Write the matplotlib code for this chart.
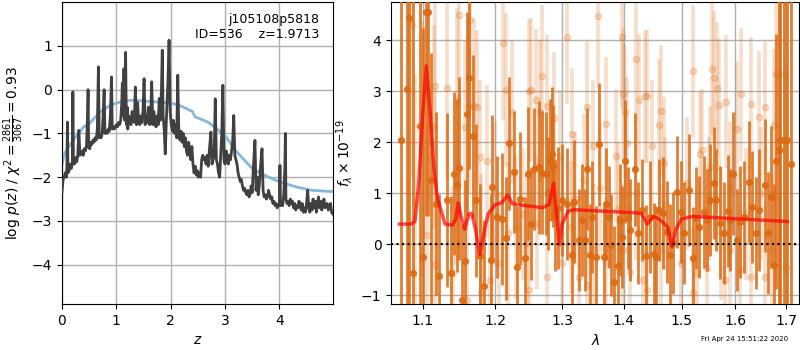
import numpy as np
import matplotlib
matplotlib.use("Agg")
import matplotlib.pyplot as plt
from matplotlib.ticker import FixedLocator, FixedFormatter, NullLocator

# ---------------- Left panel data: log p(z) ----------------
z_pz = [0.00, 0.02, 0.04, 0.06, 0.08, 0.09, 0.10, 0.11, 0.13, 0.15, 0.17, 0.19, 0.20, 0.21, 0.23, 0.25,
        0.27, 0.29, 0.31, 0.33, 0.35, 0.37, 0.39, 0.41, 0.43, 0.45, 0.47, 0.48, 0.49, 0.51, 0.53, 0.55,
        0.57, 0.59, 0.61, 0.63, 0.65, 0.67, 0.685, 0.70, 0.72, 0.74, 0.76, 0.775, 0.79, 0.81, 0.83, 0.85,
        0.87, 0.89, 0.91, 0.925, 0.94, 0.96, 0.98, 1.00, 1.02, 1.04, 1.06, 1.08, 1.10, 1.11, 1.12, 1.14,
        1.155, 1.17, 1.185, 1.20, 1.21, 1.23, 1.25, 1.27, 1.29, 1.31, 1.33, 1.35, 1.37, 1.39, 1.41, 1.43,
        1.45, 1.47, 1.49, 1.51, 1.53, 1.55, 1.57, 1.59, 1.61, 1.63, 1.65, 1.67, 1.69, 1.71, 1.73, 1.75,
        1.77, 1.79, 1.81, 1.83, 1.845, 1.86, 1.88, 1.90, 1.92, 1.95, 1.97, 1.99, 2.01, 2.03, 2.05, 2.07,
        2.09, 2.11, 2.13, 2.15, 2.17, 2.19, 2.21, 2.23, 2.25, 2.27, 2.29, 2.31, 2.33, 2.35, 2.37, 2.39,
        2.41, 2.43, 2.45, 2.47, 2.49, 2.51, 2.53, 2.55, 2.57, 2.59, 2.61, 2.63, 2.65, 2.67, 2.69, 2.71,
        2.74, 2.76, 2.78, 2.80, 2.82, 2.84, 2.86, 2.88, 2.90, 2.92, 2.94, 2.96, 2.98, 3.00, 3.02, 3.04,
        3.06, 3.08, 3.10, 3.12, 3.14, 3.16, 3.18, 3.20, 3.22, 3.24, 3.26, 3.28, 3.30, 3.32, 3.34, 3.36,
        3.38, 3.40, 3.42, 3.44, 3.46, 3.48, 3.50, 3.52, 3.55, 3.57, 3.59, 3.61, 3.63, 3.65, 3.68, 3.70,
        3.72, 3.74, 3.76, 3.78, 3.80, 3.82, 3.84, 3.86, 3.88, 3.90, 3.92, 3.94, 3.96, 3.98, 4.00, 4.01,
        4.02, 4.04, 4.06, 4.08, 4.10, 4.11, 4.12, 4.14, 4.16, 4.18, 4.20, 4.22, 4.24, 4.26, 4.28, 4.30,
        4.32, 4.34, 4.36, 4.38, 4.40, 4.42, 4.44, 4.46, 4.48, 4.50, 4.52, 4.54, 4.56, 4.58, 4.60, 4.62,
        4.64, 4.66, 4.68, 4.70, 4.72, 4.74, 4.76, 4.78, 4.80, 4.82, 4.84, 4.86, 4.88, 4.90, 4.92, 4.94,
        4.96, 4.99]
logp = [-2.35, -2.05, -2.0, -1.9, -2.0, -1.8, -0.74, -1.9, -1.85, -1.7, -1.8, -1.7, -0.05, -1.6, -1.7, -1.55,
        -1.65, -1.5, -0.93, -1.5, -1.45, -1.4, -1.5, -1.35, -1.4, -1.3, -0.6, 0.0, -1.3, -1.35, -1.2, -1.25,
        -1.15, -1.2, -1.1, -1.15, -0.9, 0.52, -1.1, -1.05, -1.1, -1.0, -0.5, 0.0, -1.0, -0.95, -1.0, -0.9,
        -0.95, -0.6, 0.29, -0.9, -0.85, -0.9, -0.85, -0.8, -0.85, -0.75, -0.8, -0.7, -0.3, 0.15, -0.6, 0.48,
        -0.7, 0.85, -0.8, -0.4, -0.9, -0.6, -0.75, -0.8, -0.5, -0.7, -0.75, 0.06, -0.8, -0.3, -0.7, -0.8,
        -0.6, -0.75, -0.5, 0.25, -0.8, -0.6, -0.75, -0.4, -0.8, -0.7, 0.18, -0.8, -0.5, -0.75, -0.85, -0.6,
        -0.8, -0.2, -0.7, 0.0, 0.9, -0.6, -0.9, -1.47, -0.7, 0.2, 1.13, -0.5, -0.8, -0.95, -0.7, -1.0,
        -0.8, -1.1, 0.33, -1.0, -1.15, -0.95, -1.2, -1.0, -1.3, -1.1, -1.4, -1.5, -1.2, -1.35, -1.6, -1.3,
        -1.7, -1.9, -1.75, -1.95, -1.85, -2.0, -1.9, -2.0, -1.6, -1.5, -1.6, -1.55, -1.7, -1.5, -1.75, -1.4,
        -0.97, -1.7, -1.6, -1.5, -0.21, -1.6, -1.7, -1.9, -2.0, -1.5, -1.0, 0.1, -1.6, -1.7, -1.4, -1.5,
        -1.7, -1.5, -1.6, -1.4, -1.2, -0.59, -1.5, -1.6, -1.7, -1.9, -2.0, -2.1, -2.05, -2.2, -2.3, -2.25,
        -2.35, -2.4, -2.3, -2.45, -2.4, -2.2, -2.35, -1.8, -1.16, -2.3, -2.0, -2.4, -2.2, -1.8, -1.35, -2.3,
        -2.45, -2.4, -2.5, -2.45, -2.3, -2.4, -2.5, -2.45, -2.6, -2.55, -2.65, -2.6, -2.7, -2.65, -2.6, -1.73,
        -2.65, -2.55, -2.65, -2.4, -1.8, -1.0, -2.5, -2.6, -2.55, -2.65, -2.5, -2.6, -2.55, -2.7, -2.6, -2.75,
        -2.65, -2.7, -2.55, -2.6, -2.75, -2.6, -2.8, -2.7, -2.8, -2.6, -2.3, -2.7, -2.8, -2.6, -2.75, -2.5,
        -2.7, -2.55, -2.8, -2.6, -2.45, -2.7, -2.55, -2.75, -2.6, -2.5, -2.7, -2.65, -2.6, -2.75, -2.7, -2.6,
        -2.8, -2.85]

z_prior = [0.0, 0.05, 0.2, 0.4, 0.5, 0.7, 0.9, 1.1, 1.3, 1.6, 2.0, 2.2, 2.4, 2.45, 2.7, 3.0, 3.2, 3.5,
           3.8, 4.0, 4.3, 4.6, 4.99]
logp_prior = [-1.7, -1.45, -1.16, -0.85, -0.78, -0.51, -0.35, -0.27, -0.24, -0.27, -0.3, -0.38, -0.5,
              -0.62, -0.75, -1.05, -1.4, -1.8, -2.0, -2.1, -2.22, -2.3, -2.33]

# ---------------- Right panel data: spectrum ----------------
lam_a = [1.0723, 1.0796, 1.0826, 1.0869, 1.0970, 1.1009, 1.1044, 1.1071, 1.1115, 1.1173, 1.1222, 1.1326,
         1.1376, 1.1417, 1.1462, 1.1485, 1.1536, 1.1568, 1.1605, 1.1628, 1.1679, 1.1726, 1.1787, 1.1834,
         1.1934, 1.1953, 1.2025, 1.2097, 1.2155, 1.2194, 1.2267, 1.2316, 1.2365, 1.2430, 1.2475, 1.2524,
         1.2565, 1.2650, 1.2690, 1.2746, 1.2787, 1.2818, 1.2838, 1.2854, 1.2885, 1.2931, 1.2993, 1.3076,
         1.3155, 1.3192, 1.3271, 1.3313, 1.3356, 1.3399, 1.3447, 1.3479, 1.3533, 1.3582, 1.3663, 1.3707,
         1.3745, 1.3784, 1.3839, 1.3894, 1.3933, 1.3972, 1.4011, 1.4067, 1.4107, 1.4180, 1.4237, 1.4305,
         1.4368, 1.4443, 1.4506, 1.4541, 1.4605, 1.4664, 1.4740, 1.4799, 1.4846, 1.4918, 1.4995, 1.5049,
         1.5127, 1.5200, 1.5267, 1.5322, 1.5402, 1.5463, 1.5525, 1.5587, 1.5637, 1.5712, 1.5775, 1.5851,
         1.5902, 1.5946, 1.6029, 1.6080, 1.6158, 1.6268, 1.6313, 1.6405, 1.6464, 1.6569, 1.6635, 1.6695,
         1.6749, 1.6802, 1.6856, 1.6883, 1.6950, 1.7018, 1.7100]
flux_a = [2.05, 3.04, 4.43, -0.55, 2.32, -0.25, 4.56, 4.56, 1.26, 0.80, -0.61, 0.87,
          -0.55, 1.39, 1.16, 1.49, -1.09, -0.33, 2.55, 3.27, 2.12, 0.87, -0.22, -0.82,
          -0.31, 1.13, 0.54, 0.50, 0.12, 1.98, 1.42, -0.44, 0.90, -0.27, 1.39, 0.40,
          1.48, 1.51, 1.41, 1.39, 1.00, 1.65, 1.78, 1.54, 0.58, 0.71, 0.87, 0.79,
          -0.21, 0.84, 0.08, 0.48, 0.08, 1.48, -0.21, 0.54, -0.25, 1.96, -0.24, 0.80,
          0.54, -0.01, -0.73, -0.42, 0.48, 0.14, 1.63, 0.51, 0.28, 1.47, 0.22, 0.67,
          -0.23, 0.54, -0.18, -0.24, 0.67, 0.61, 0.25, -0.21, 0.02, 1.03, 0.64, 0.22,
          1.07, -0.27, 0.51, 0.35, 0.64, 0.48, 0.87, 1.21, 0.87, 0.43, 0.22, 0.66,
          0.48, 1.39, 0.08, 0.44, 0.54, 1.22, 0.74, 0.22, 0.67, 1.16, 0.22, 0.93,
          -0.41, 1.63, 1.85, 2.05, 2.05, 2.05, 1.58]
err_a = [6.0, 6.0, 6.0, 6.0, 5.0, 4.5, 4.0, 4.0, 2.5, 1.8, 1.6, 1.7,
         1.5, 1.6, 1.7, 1.8, 1.5, 1.6, 2.0, 1.8, 1.6, 1.5, 1.4, 1.3,
         1.3, 1.4, 1.2, 1.3, 1.2, 1.3, 1.2, 1.2, 1.3, 1.2, 1.3, 1.1,
         1.2, 1.3, 1.2, 1.2, 1.1, 1.2, 1.3, 1.2, 1.1, 1.2, 1.1, 1.1,
         1.1, 1.2, 1.0, 1.1, 1.0, 1.2, 1.0, 1.1, 1.0, 1.2, 1.0, 1.1,
         1.0, 1.0, 1.1, 1.0, 1.1, 1.0, 1.2, 1.0, 1.0, 1.1, 1.0, 1.0,
         1.0, 1.1, 1.0, 1.0, 1.0, 1.1, 1.0, 1.0, 1.0, 1.1, 1.0, 1.0,
         1.1, 1.0, 1.0, 1.0, 1.1, 1.0, 1.1, 1.1, 1.0, 1.1, 1.0, 1.1,
         1.0, 1.2, 1.0, 1.1, 1.1, 1.2, 1.1, 1.1, 1.2, 1.3, 1.2, 1.4,
         1.6, 2.5, 4.0, 5.0, 6.0, 6.0, 6.0]

lam_b = [1.0860, 1.0904, 1.0992, 1.1058, 1.1146, 1.1159, 1.1168, 1.1330, 1.1414, 1.1450, 1.1462, 1.1494,
         1.1575, 1.1596, 1.1623, 1.1646, 1.1693, 1.1740, 1.1778, 1.1800, 1.1803, 1.1881, 1.1919, 1.2000,
         1.2060, 1.2111, 1.2155, 1.2179, 1.2243, 1.2300, 1.2400, 1.2470, 1.2490, 1.2500, 1.2524, 1.2600,
         1.2619, 1.2665, 1.2695, 1.2767, 1.2771, 1.2870, 1.2975, 1.3003, 1.3076, 1.3134, 1.3155, 1.3200,
         1.3266, 1.3346, 1.3394, 1.3400, 1.3490, 1.3510, 1.3577, 1.3600, 1.3696, 1.3705, 1.3861, 1.3900,
         1.3961, 1.3985, 1.3989, 1.4011, 1.4056, 1.4100, 1.4200, 1.4203, 1.4260, 1.4332, 1.4358, 1.4397,
         1.4400, 1.4485, 1.4603, 1.4628, 1.4632, 1.4687, 1.4700, 1.4990, 1.5100, 1.5200, 1.5200, 1.5272,
         1.5340, 1.5371, 1.5463, 1.5500, 1.5525, 1.5556, 1.5600, 1.5650, 1.5681, 1.5722, 1.5800, 1.5820,
         1.5888, 1.5900, 1.6029, 1.6088, 1.6106, 1.6200, 1.6292, 1.6293, 1.6450, 1.6500, 1.6568, 1.6581,
         1.6708, 1.6749, 1.6795, 1.6883, 1.6985, 1.6993]
flux_b = [4.30, 0.84, 1.88, 0.18, 2.30, 3.10, -0.41, 3.06, -0.56, 1.20, 2.83, 4.50,
          2.31, -1.09, 2.71, 4.39, 2.71, 2.70, 1.72, -0.95, -0.11, 1.63, -0.70, 1.00,
          -0.37, 3.94, 3.03, 0.22, 2.60, 0.34, 0.60, 0.03, 3.01, -0.90, 3.03, 2.83,
          0.42, 2.60, 3.30, 2.71, -0.64, 2.47, 1.72, -0.37, 4.06, 0.34, 2.16, 0.90,
          -0.64, 1.26, 2.69, -0.80, 1.92, -0.11, 4.48, 1.10, 2.37, -0.37, 1.74, 0.70,
          4.06, -0.11, 2.94, 2.60, 1.98, -0.54, 1.00, 3.63, 2.83, -0.70, 2.90, 2.90,
          -0.90, 1.93, 2.34, -0.11, 2.61, 1.59, 0.80, -0.37, 1.20, 3.39, -0.95, -0.56,
          1.78, 1.85, -0.47, 0.90, 1.52, 3.44, 3.27, 3.06, 2.73, 0.22, -0.70, 2.80,
          -0.11, 1.10, 2.27, -0.50, 2.94, 0.60, -0.64, 2.76, 2.49, 1.00, -0.64, 2.69,
          -0.11, 2.34, 3.34, 1.88, 3.35, -0.44]
err_b = [3.0, 2.5, 2.5, 2.2, 2.0, 2.0, 2.0, 1.8, 1.7, 1.6, 1.8, 1.8,
         1.7, 1.6, 1.7, 1.8, 1.7, 1.5, 1.5, 1.5, 1.5, 1.5, 1.4, 1.4,
         1.4, 1.5, 1.5, 1.4, 1.4, 1.4, 1.3, 1.4, 1.4, 1.3, 1.4, 1.4,
         1.3, 1.4, 1.4, 1.4, 1.3, 1.3, 1.3, 1.3, 1.3, 1.3, 1.3, 1.3,
         1.3, 1.3, 1.3, 1.3, 1.3, 1.3, 1.4, 1.3, 1.3, 1.3, 1.3, 1.3,
         1.4, 1.3, 1.3, 1.3, 1.3, 1.3, 1.3, 1.3, 1.3, 1.3, 1.3, 1.3,
         1.3, 1.3, 1.3, 1.3, 1.3, 1.3, 1.3, 1.3, 1.3, 1.3, 1.3, 1.3,
         1.2, 1.2, 1.2, 1.2, 1.2, 1.3, 1.3, 1.3, 1.3, 1.3, 1.3, 1.3,
         1.3, 1.3, 1.3, 1.3, 1.3, 1.3, 1.3, 1.3, 1.3, 1.3, 1.4, 1.3,
         1.5, 1.5, 2.5, 4.0, 4.0, 4.0]

lam_model = [1.070, 1.085, 1.090, 1.095, 1.100, 1.105, 1.110, 1.115, 1.120, 1.130, 1.140, 1.145, 1.148,
             1.152, 1.157, 1.163, 1.167, 1.172, 1.178, 1.185, 1.190, 1.200, 1.210, 1.218, 1.225, 1.240,
             1.270, 1.280, 1.287, 1.290, 1.296, 1.300, 1.310, 1.320, 1.420, 1.430, 1.440, 1.450, 1.460,
             1.475, 1.483, 1.490, 1.500, 1.520, 1.703]
flux_model = [0.40, 0.40, 0.45, 1.20, 2.50, 3.50, 2.60, 1.50, 0.90, 0.40, 0.38, 0.50, 0.82,
              0.55, 0.30, 0.60, 0.60, 0.30, -0.20, 0.30, 0.60, 0.78, 0.82, 0.97, 0.80, 0.77,
              0.72, 0.78, 1.20, 0.80, 0.00, 0.40, 0.66, 0.68, 0.62, 0.60, 0.40, 0.55, 0.50,
              0.35, -0.05, 0.30, 0.50, 0.55, 0.45]

xticks_lam = [1.1, 1.2, 1.3, 1.4, 1.5, 1.6, 1.7]
xtick_labels = ['1.1', '1.2', '1.3', '1.4', '1.5', '1.6', '1.7']

# ---------------- Figure ----------------
fig = plt.figure(figsize=(8, 3.5), dpi=100)
ax1 = fig.add_axes([0.0775, 0.131, 0.339, 0.863])
ax2 = fig.add_axes([0.489, 0.131, 0.510, 0.863])

ax1.plot(z_pz, logp, color='0.25', lw=2, zorder=3)
ax1.plot(z_prior, logp_prior, color='#87b7dc', lw=2, zorder=2)
ax1.set_xlim(0, 4.99)
ax1.set_ylim(-4.9, 2.0)
ax1.set_yticks([-4, -3, -2, -1, 0, 1])
ax1.set_xticks([0, 1, 2, 3, 4])
ax1.grid(True, color='#b0b0b0', lw=1)
ax1.set_axisbelow(True)
ax1.set_xlabel(r'$z$', fontsize=10)
ax1.set_ylabel(r'log $p(z)$ / $\chi^2=\frac{2861}{3067}=0.93$', fontsize=10)
ax1.text(0.95, 0.965, 'j105108p5818\nID=536    z=1.9713', transform=ax1.transAxes,
         ha='right', va='top', fontsize=9)
ax1.tick_params(labelsize=10)

c = '#dc6a12'
ax2.errorbar(lam_b, flux_b, yerr=err_b, marker='o', linestyle='None', color=c, alpha=0.22,
             ms=4.5, elinewidth=2.6, capsize=0, zorder=2)
ax2.errorbar(lam_a, flux_a, yerr=err_a, marker='o', linestyle='None', color=c, alpha=0.85,
             ms=4.2, elinewidth=2.0, capsize=0, zorder=3)
ax2.plot(lam_model, flux_model, color='red', lw=2.5, alpha=0.7, zorder=5)
ax2.axhline(0, color='k', ls=':', lw=1.5, zorder=6)
ax2.set_xscale('log')
ax2.set_xlim(1.0595, 1.727)
ax2.set_ylim(-1.17, 4.75)
ax2.xaxis.set_major_locator(FixedLocator(xticks_lam))
ax2.xaxis.set_major_formatter(FixedFormatter(xtick_labels))
ax2.xaxis.set_minor_locator(NullLocator())
ax2.set_yticks([-1, 0, 1, 2, 3, 4])
ax2.grid(True, color='#b0b0b0', lw=1)
ax2.set_axisbelow(True)
ax2.set_xlabel(r'$\lambda$', fontsize=10)
ax2.set_ylabel(r'$f_\lambda \times 10^{-19}$', fontsize=10)
ax2.tick_params(labelsize=10)

fig.text(0.985, 0.022, 'Fri Apr 24 15:51:22 2020', ha='right', va='bottom', fontsize=5)

fig.savefig('out.png', dpi=100)
